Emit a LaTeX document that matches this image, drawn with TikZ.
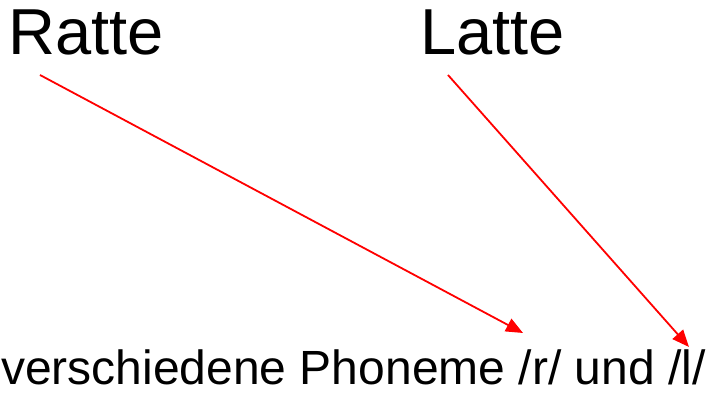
\documentclass[tikz,border=0pt]{standalone}
\usepackage{fontspec}
\setmainfont{Liberation Sans}
\usetikzlibrary{positioning}
\usetikzlibrary{arrows.meta}

\begin{document}
\begin{tikzpicture}[x=1pt,y=1pt,
  word/.style={inner sep=0pt, anchor=base west, font=\fontsize{65}{72}\selectfont},
  phon/.style={inner sep=0pt, anchor=base west, font=\fontsize{48}{56}\selectfont},
  pointer/.style={red, line width=1.8pt, -{Triangle[length=17pt,width=14pt]}}]

\useasboundingbox (0,0) rectangle (707,395);

\node[word] (ratte) at (8,340) {Ratte};
\node[word] (latte) at (420,340) {Latte};

\node[phon] (phoneme) at (1,10) {verschiedene Phoneme /r/ und /l/};

\coordinate (rfrom) at (40,320);
\coordinate (lfrom) at (448,320);
\coordinate (rto) at (523,62);
\coordinate (lto) at (689,48);

\draw[pointer] (rfrom) -- (rto);
\draw[pointer] (lfrom) -- (lto);

\end{tikzpicture}
\end{document}
